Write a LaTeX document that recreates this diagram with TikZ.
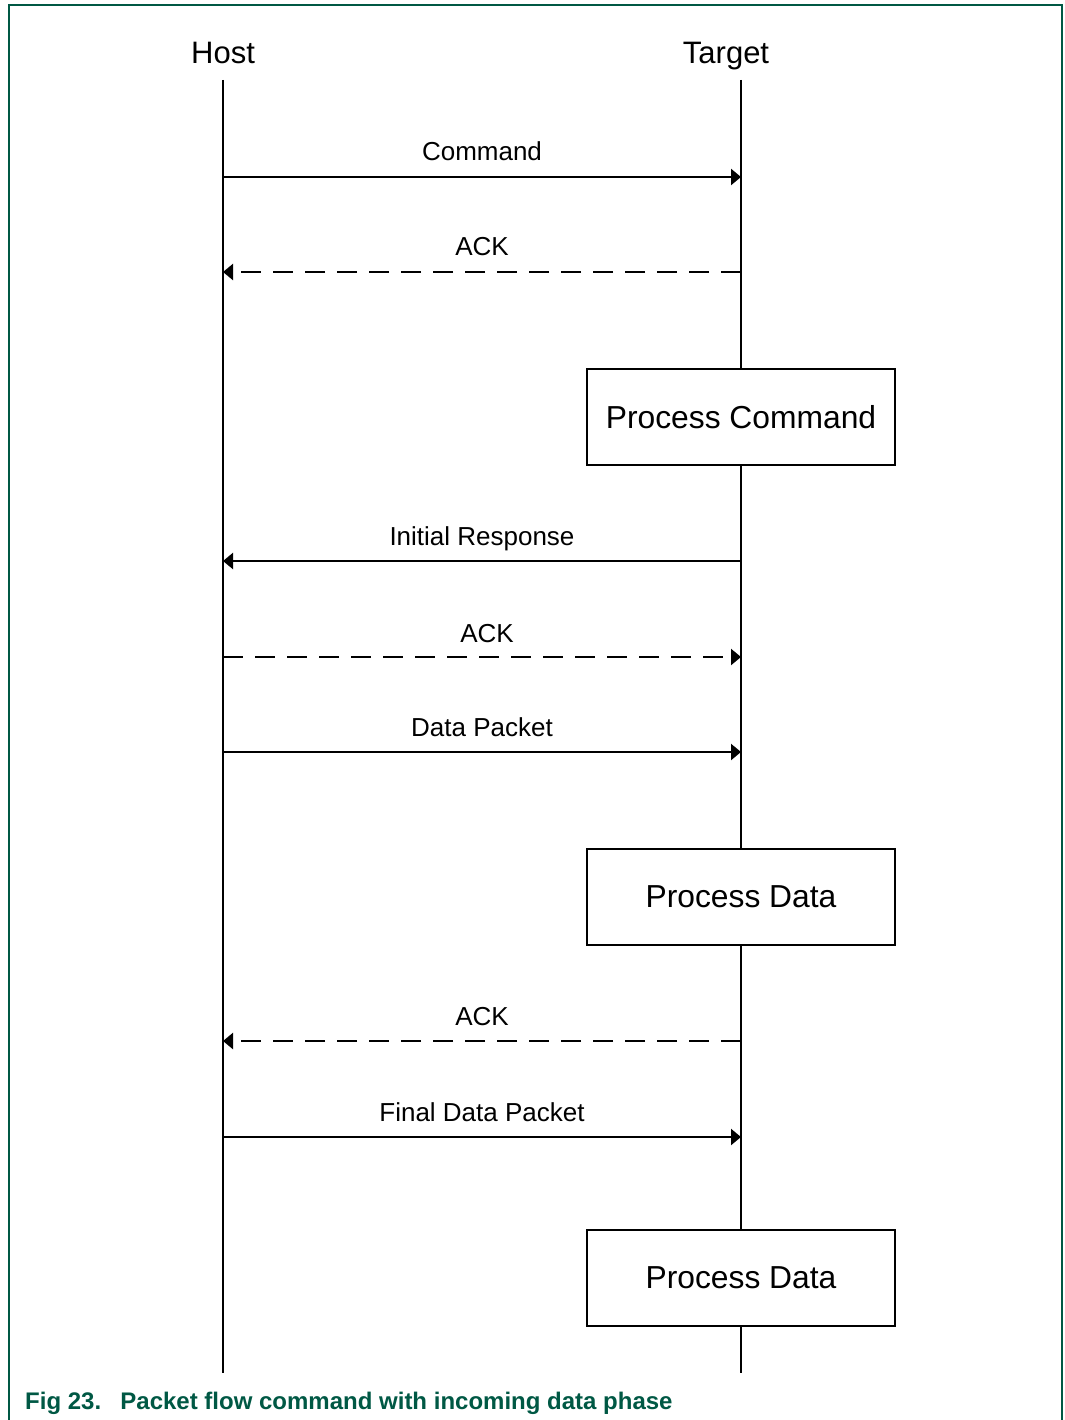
\documentclass[tikz,border=0pt]{standalone}
\usepackage{fontspec}
\setmainfont{Liberation Sans}
\usetikzlibrary{arrows.meta}
\definecolor{nxpgreen}{RGB}{0,88,68}
\begin{document}
\begin{tikzpicture}[x=1bp,y=-1bp,
  life/.style={line width=2.2bp},
  msg/.style={line width=2.2bp,-{Triangle[length=10bp,width=16bp]}},
  ackmsg/.style={msg,dash pattern=on 20bp off 12bp},
  lbl/.style={font=\fontsize{26bp}{30bp}\selectfont,anchor=base,inner sep=0pt},
  hdr/.style={font=\fontsize{31bp}{36bp}\selectfont,anchor=base,inner sep=0pt},
  procbox/.style={draw,line width=2.2bp,fill=white,minimum width=308bp,minimum height=96bp,inner sep=0pt,font=\fontsize{31.8bp}{36bp}\selectfont},
  frame/.style={draw=nxpgreen,line width=1.6bp},
  caption/.style={font=\fontsize{24bp}{28bp}\selectfont\bfseries,text=nxpgreen,anchor=base west,inner sep=0pt}
]
\useasboundingbox (0,0) rectangle (1064,1420);
% frame
\coordinate (fbl) at (9,1420);
\coordinate (ftl) at (9,5);
\coordinate (ftr) at (1062,5);
\coordinate (fbr) at (1062,1420);
\draw[frame] (fbl) -- (ftl) -- (ftr) -- (fbr);
% headers
\node[hdr] (host) at (223,64) {Host};
\node[hdr] (target) at (726,64) {Target};
% lifelines
\coordinate (hostTop) at (223,80);
\coordinate (hostBot) at (223,1373);
\coordinate (tgtTop) at (741,80);
\coordinate (tgtBot) at (741,1373);
\draw[life] (hostTop) -- (hostBot);
\draw[life] (tgtTop) -- (tgtBot);
% message endpoints
\foreach \n/\yy in {1/177,2/272,3/561,4/657,5/752,6/1041,7/1137}{
  \coordinate (h\n) at (223,\yy);
  \coordinate (t\n) at (741,\yy);
}
% messages
\draw[msg] (h1) -- (t1);
\node[lbl] (l1) at (482,161) {Command};
\draw[ackmsg] (t2) -- (h2);
\node[lbl] (l2) at (482,256) {ACK};
\node[procbox] (pc) at (741,417) {Process Command};
\draw[msg] (t3) -- (h3);
\node[lbl] (l3) at (482,545) {Initial Response};
\draw[ackmsg] (h4) -- (t4);
\node[lbl] (l4) at (487,642) {ACK};
\draw[msg] (h5) -- (t5);
\node[lbl] (l5) at (482,736) {Data Packet};
\node[procbox] (pd1) at (741,897) {Process Data};
\draw[ackmsg] (t6) -- (h6);
\node[lbl] (l6) at (482,1025) {ACK};
\draw[msg] (h7) -- (t7);
\node[lbl] (l7) at (482,1121) {Final Data Packet};
\node[procbox] (pd2) at (741,1278) {Process Data};
% caption
\node[caption] (cap) at (25,1409) {Fig 23.\hspace{0.8em}Packet flow command with incoming data phase};
\end{tikzpicture}
\end{document}
